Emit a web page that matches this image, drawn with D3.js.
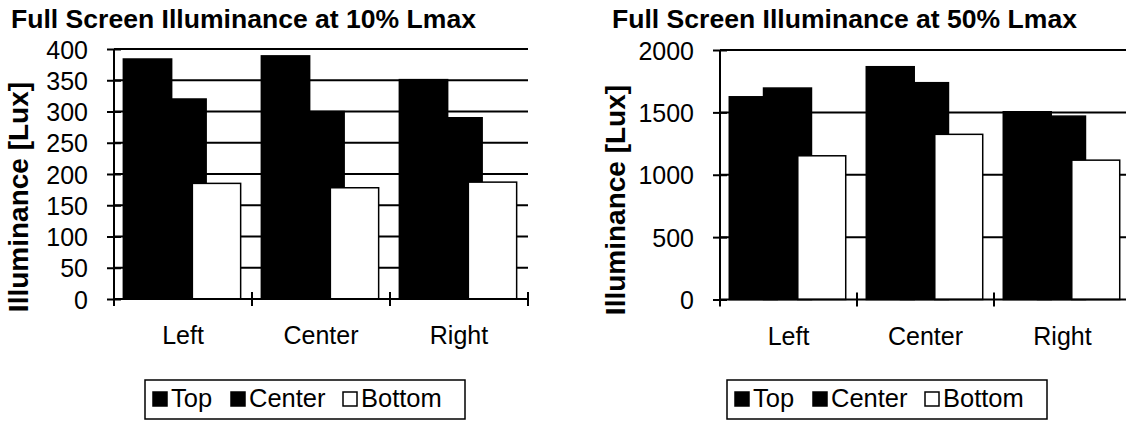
<!DOCTYPE html>
<html>
<head>
<meta charset="utf-8">
<script src="https://cdn.jsdelivr.net/npm/d3@7"></script>
<style>
  html, body { margin: 0; padding: 0; background: #fff; }
  svg { display: block; font-family: "Liberation Sans", Arial, sans-serif; }
</style>
</head>
<body>
<svg id="chart" width="1126" height="423"></svg>
<script>
// ---------- data ----------
const categories = ["Left", "Center", "Right"];
const seriesNames = ["Top", "Center", "Bottom"];

// Full Screen Illuminance at 10% Lmax
const lux10Top    = [384, 389, 351];
const lux10Center = [320, 300, 290];
const lux10Bottom = [185, 178, 187];
const ticks10 = [0, 50, 100, 150, 200, 250, 300, 350, 400];

// Full Screen Illuminance at 50% Lmax
const lux50Top    = [1625, 1866, 1505];
const lux50Center = [1695, 1738, 1470];
const lux50Bottom = [1152, 1324, 1117];
const ticks50 = [0, 500, 1000, 1500, 2000];

const title10 = "Full Screen Illuminance at 10% Lmax";
const title50 = "Full Screen Illuminance at 50% Lmax";
const yTitle = "Illuminance [Lux]";

// ---------- drawing ----------
const svg = d3.select("#chart");
const seriesFill = ["#000", "#000", "#fff"];

function drawChart(opt) {
  const g = svg.append("g");
  const band = opt.band;
  const x0 = d3.scaleBand().domain(categories)
    .range([opt.axisX, opt.axisX + band * categories.length])
    .paddingInner(0).paddingOuter(0);
  const y = d3.scaleLinear().domain([0, opt.max]).range([opt.y0, opt.yTop]);
  const plotRight = opt.axisX + band * categories.length;

  // title
  g.append("text").attr("x", opt.titleX).attr("y", 28)
    .attr("font-size", 25).attr("font-weight", "bold").attr("fill", "#000")
    .attr("textLength", 465).attr("lengthAdjust", "spacingAndGlyphs")
    .text(opt.title);

  // y axis title
  g.append("text")
    .attr("transform", `translate(${opt.yTitleX},${opt.yTitleY}) rotate(-90)`)
    .attr("text-anchor", "middle")
    .attr("font-size", 28).attr("font-weight", "bold").attr("fill", "#000")
    .text(yTitle);

  // gridlines
  g.append("g").selectAll("line").data(opt.ticks.filter(t => t > 0)).join("line")
    .attr("x1", opt.axisX).attr("x2", plotRight)
    .attr("y1", d => y(d)).attr("y2", d => y(d))
    .attr("stroke", "#000").attr("stroke-width", 2);

  // bars
  const bw = band * 0.35, step = band * 0.25;
  const pad = (band - (2 * step + bw)) / 2 - 1;
  opt.series.forEach((vals, i) => {
    g.append("g").selectAll("rect").data(vals).join("rect")
      .attr("x", (d, j) => x0(categories[j]) + pad + i * step)
      .attr("y", d => y(d))
      .attr("width", bw)
      .attr("height", d => y(0) - y(d))
      .attr("fill", seriesFill[i])
      .attr("stroke", "#000").attr("stroke-width", 1.5);
  });

  // y axis
  const yAxis = d3.axisLeft(y).tickValues(opt.ticks)
    .tickSizeInner(7).tickSizeOuter(0).tickPadding(19).tickFormat(d3.format("d"));
  const ya = g.append("g").attr("transform", `translate(${opt.axisX},0)`).call(yAxis);
  ya.select(".domain").attr("stroke", "#000").attr("stroke-width", 2)
    .attr("d", `M0,${opt.y0}V${opt.yTop}`);
  ya.selectAll(".tick line").attr("x1", 7).attr("stroke", "#000").attr("stroke-width", 2);
  ya.selectAll(".tick text").attr("font-size", 25).attr("fill", "#000")
    .attr("font-family", "'Liberation Sans', Arial, sans-serif")
    .attr("dy", null).attr("y", 9);

  // x axis (labels at band centers)
  const xAxis = d3.axisBottom(x0).tickSize(0).tickPadding(0);
  const xa = g.append("g").attr("transform", `translate(0,${opt.y0})`).call(xAxis);
  xa.select(".domain").attr("stroke", "#000").attr("stroke-width", 2)
    .attr("d", `M${opt.axisX},0H${plotRight}`);
  xa.selectAll(".tick text").attr("font-size", 25).attr("fill", "#000")
    .attr("font-family", "'Liberation Sans', Arial, sans-serif")
    .attr("dy", null).attr("y", 45);

  // crossing tick marks at category boundaries
  const bounds = categories.map(c => x0(c)).concat([plotRight]);
  xa.append("g").selectAll("line").data(bounds).join("line")
    .attr("x1", d => d).attr("x2", d => d).attr("y1", -7).attr("y2", 7)
    .attr("stroke", "#000").attr("stroke-width", 2);

  // legend
  const lg = svg.append("g").attr("transform", `translate(${opt.legendX},380)`);
  lg.append("rect").attr("x", 0).attr("y", 0).attr("width", 320).attr("height", 39)
    .attr("fill", "#fff").attr("stroke", "#000").attr("stroke-width", 1.5);
  const sqX = [8, 86, 198];
  seriesNames.forEach((name, i) => {
    lg.append("rect").attr("x", sqX[i]).attr("y", 12).attr("width", 14).attr("height", 14)
      .attr("fill", seriesFill[i]).attr("stroke", "#000").attr("stroke-width", 1.5);
    lg.append("text").attr("x", sqX[i] + 18).attr("y", 27)
      .attr("font-size", 25.5).attr("fill", "#000").text(name);
  });
}

drawChart({
  title: title10, titleX: 11, max: 400, ticks: ticks10,
  axisX: 114, band: 138, y0: 299, yTop: 49,
  yTitleX: 28, yTitleY: 197, legendX: 145,
  series: [lux10Top, lux10Center, lux10Bottom]
});

drawChart({
  title: title50, titleX: 612, max: 2000, ticks: ticks50,
  axisX: 720, band: 137, y0: 299.5, yTop: 50,
  yTitleX: 625, yTitleY: 200, legendX: 727,
  series: [lux50Top, lux50Center, lux50Bottom]
});
</script>
</body>
</html>
